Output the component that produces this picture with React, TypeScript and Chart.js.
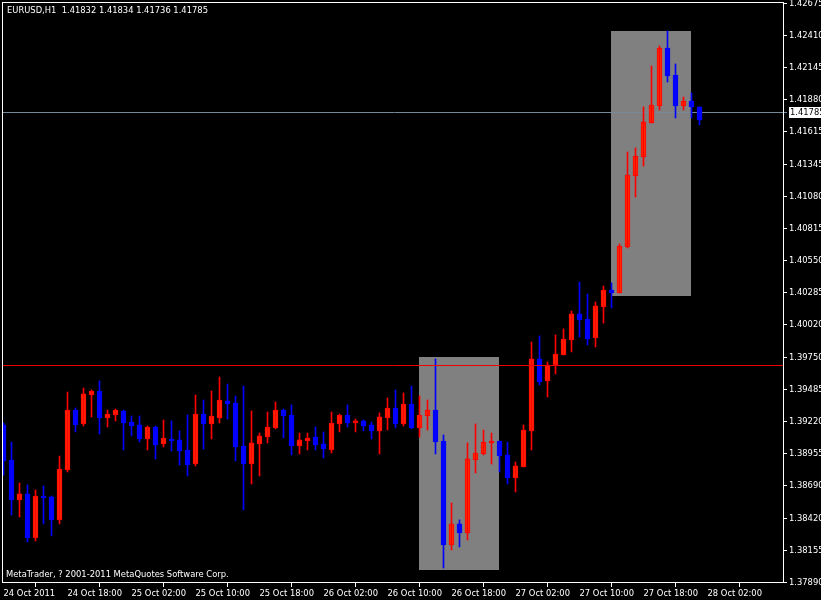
import React, { useEffect, useRef } from 'react';
import { Chart, registerables } from 'chart.js';

Chart.register(...registerables);

// ---- Data (EURUSD H1, bar 0 = 24 Oct 2011 10:00) ----
const opens = [
  1.39192, 1.38902, 1.38572, 1.38622, 1.38258, 1.38605, 1.38597, 1.38407, 1.38820, 1.39315,
  1.39200, 1.39439, 1.39472, 1.39249, 1.39274, 1.39307, 1.39216, 1.39192, 1.39076, 1.39175,
  1.39035, 1.39076, 1.39068, 1.38985, 1.38869, 1.39282, 1.39200, 1.39249, 1.39390, 1.39373,
  1.39018, 1.38869, 1.39035, 1.39092, 1.39167, 1.39315, 1.39274, 1.39018, 1.39059, 1.39092,
  1.39035, 1.38985, 1.39200, 1.39274, 1.39208, 1.39225, 1.39192, 1.39142, 1.39249, 1.39332,
  1.39200, 1.39365, 1.39167, 1.39266, 1.39315, 1.39059, 1.38200, 1.38374, 1.38299, 1.38902,
  1.38952, 1.39043, 1.39059, 1.38944, 1.38754, 1.38845, 1.39142, 1.39737, 1.39555, 1.39687,
  1.39770, 1.39894, 1.40109, 1.40067, 1.39910, 1.40166, 1.40307, 1.40282, 1.40662, 1.41249,
  1.41406, 1.41686, 1.41827, 1.42306, 1.42083, 1.41827, 1.41868, 1.41819,
];
const highs = [
  1.39208, 1.39051, 1.38712, 1.38696, 1.38655, 1.38688, 1.38605, 1.38935, 1.39464, 1.39332,
  1.39497, 1.39481, 1.39555, 1.39315, 1.39324, 1.39315, 1.39266, 1.39266, 1.39183, 1.39183,
  1.39233, 1.39225, 1.39142, 1.39274, 1.39439, 1.39398, 1.39472, 1.39588, 1.39530, 1.39431,
  1.39514, 1.39307, 1.39125, 1.39299, 1.39382, 1.39324, 1.39357, 1.39125, 1.39125, 1.39175,
  1.39134, 1.39299, 1.39282, 1.39357, 1.39241, 1.39233, 1.39216, 1.39291, 1.39415, 1.39481,
  1.39456, 1.39514, 1.39431, 1.39398, 1.39737, 1.39109, 1.38547, 1.38407, 1.39043, 1.39200,
  1.39150, 1.39125, 1.39059, 1.39051, 1.38886, 1.39192, 1.39877, 1.39927, 1.39712, 1.39935,
  1.39985, 1.40133, 1.40373, 1.40274, 1.40208, 1.40340, 1.40365, 1.40687, 1.41447, 1.41480,
  1.41819, 1.42157, 1.42323, 1.42446, 1.42174, 1.41901, 1.41934, 1.41819,
];
const lows = [
  1.38778, 1.38448, 1.38432, 1.38225, 1.38233, 1.38374, 1.38275, 1.38374, 1.38803, 1.39134,
  1.39183, 1.39258, 1.39117, 1.39175, 1.39225, 1.38985, 1.39101, 1.39051, 1.38985, 1.38911,
  1.39010, 1.38977, 1.38861, 1.38770, 1.38853, 1.38993, 1.39076, 1.39208, 1.39241, 1.38894,
  1.38489, 1.38704, 1.38770, 1.39043, 1.39159, 1.39084, 1.38944, 1.38952, 1.38985, 1.38985,
  1.38919, 1.38960, 1.39134, 1.39175, 1.39134, 1.39142, 1.39076, 1.38952, 1.39150, 1.39167,
  1.39183, 1.39159, 1.39092, 1.39150, 1.38952, 1.38010, 1.38159, 1.38184, 1.38242, 1.38795,
  1.38944, 1.38869, 1.38803, 1.38704, 1.38638, 1.38845, 1.38985, 1.39522, 1.39423, 1.39613,
  1.39770, 1.39795, 1.39919, 1.39853, 1.39836, 1.40034, 1.40158, 1.40282, 1.40654, 1.41075,
  1.41331, 1.41686, 1.41794, 1.42025, 1.41728, 1.41794, 1.41728, 1.41670,
];
const closes = [
  1.38894, 1.38572, 1.38622, 1.38258, 1.38605, 1.38589, 1.38407, 1.38828, 1.39315, 1.39192,
  1.39448, 1.39472, 1.39249, 1.39282, 1.39315, 1.39208, 1.39183, 1.39076, 1.39175, 1.39026,
  1.39084, 1.39059, 1.38977, 1.38861, 1.39282, 1.39200, 1.39266, 1.39398, 1.39365, 1.39010,
  1.38869, 1.39043, 1.39101, 1.39175, 1.39315, 1.39266, 1.39018, 1.39068, 1.39084, 1.39026,
  1.38993, 1.39208, 1.39274, 1.39208, 1.39225, 1.39183, 1.39142, 1.39258, 1.39332, 1.39200,
  1.39365, 1.39167, 1.39274, 1.39315, 1.39051, 1.38200, 1.38374, 1.38299, 1.38911, 1.38960,
  1.39051, 1.39059, 1.38935, 1.38754, 1.38853, 1.39150, 1.39737, 1.39547, 1.39687, 1.39778,
  1.39902, 1.40109, 1.40059, 1.39902, 1.40175, 1.40307, 1.40282, 1.40670, 1.41257, 1.41414,
  1.41695, 1.41835, 1.42306, 1.42075, 1.41827, 1.41868, 1.41819, 1.41711,
];

const xTickIndex = [0, 8, 16, 24, 32, 40, 48, 56, 64, 72, 80, 88];
const xTickLabels = [
  '24 Oct 2011', '24 Oct 18:00', '25 Oct 02:00', '25 Oct 10:00', '25 Oct 18:00', '26 Oct 02:00',
  '26 Oct 10:00', '26 Oct 18:00', '27 Oct 02:00', '27 Oct 10:00', '27 Oct 18:00', '28 Oct 02:00',
];
const yTickLabels = [
  '1.37890', '1.38155', '1.38420', '1.38690', '1.38955', '1.39220', '1.39485', '1.39750',
  '1.40020', '1.40285', '1.40550', '1.40815', '1.41080', '1.41345', '1.41615', '1.41880',
  '1.42145', '1.42410', '1.42675',
];

// rectangles (bar index from/to, price high/low)
const zoneStart = [52, 76];
const zoneEnd = [62, 86];
const zoneHigh = [1.39753, 1.42446];
const zoneLow = [1.37994, 1.40257];

const levelPrice = 1.39685;
const bidPrice = 1.41785;
const bidLabel = '1.41785';
const titleText = 'EURUSD,H1  1.41832 1.41834 1.41736 1.41785';
const copyrightText = 'MetaTrader, ? 2001-2011 MetaQuotes Software Corp.';

const Y_MIN = 1.37886;
const Y_MAX = 1.42686;
const X_MIN = -0.1875;
const X_MAX = 97.4375;

const FONT_FAMILY = "'DejaVu Sans Condensed', 'Liberation Sans', sans-serif";
const FONT_SIZE = 9.3;
const BULL_FILL = '#FF3300';
const BULL_LINE = '#FF0000';
const BEAR_FILL = '#0000FF';
const BEAR_LINE = '#0000FF';

const mtPlugin = {
  id: 'mtDecor',
  beforeDatasetsDraw(chart: any) {
    const { ctx, chartArea, scales } = chart;
    const x = scales.x;
    const y = scales.y;
    ctx.save();
    ctx.fillStyle = '#808080';
    zoneStart.forEach((s, i) => {
      const x0 = Math.floor(x.getPixelForValue(s));
      const x1 = Math.floor(x.getPixelForValue(zoneEnd[i]));
      const y0 = Math.round(y.getPixelForValue(zoneHigh[i]));
      const y1 = Math.round(y.getPixelForValue(zoneLow[i]));
      ctx.fillRect(x0, y0, x1 - x0, y1 - y0);
    });
    // bid line (behind candles)
    const by = Math.ceil(y.getPixelForValue(bidPrice)) + 0.5;
    ctx.strokeStyle = '#778899';
    ctx.lineWidth = 1;
    ctx.beginPath();
    ctx.moveTo(chartArea.left, by);
    ctx.lineTo(chartArea.right + 4, by);
    ctx.stroke();
    ctx.restore();
  },
  afterDatasetsDraw(chart: any) {
    const { ctx, chartArea, scales } = chart;
    const y = scales.y;
    ctx.save();
    ctx.lineWidth = 1;
    // red level line (in front of candles)
    const ly = Math.round(y.getPixelForValue(levelPrice)) + 0.5;
    ctx.strokeStyle = '#F00000';
    ctx.beginPath();
    ctx.moveTo(chartArea.left, ly);
    ctx.lineTo(chartArea.right, ly);
    ctx.stroke();
    ctx.restore();
  },
  afterDraw(chart: any) {
    const { ctx, chartArea, scales } = chart;
    const y = scales.y;
    ctx.save();
    // frame
    ctx.strokeStyle = '#FFFFFF';
    ctx.lineWidth = 1;
    ctx.strokeRect(
      chartArea.left + 0.5,
      chartArea.top + 0.5,
      chartArea.right - chartArea.left,
      chartArea.bottom - chartArea.top - 1
    );
    ctx.font = `${FONT_SIZE}px ${FONT_FAMILY}`;
    ctx.textBaseline = 'middle';
    ctx.textAlign = 'left';
    ctx.fillStyle = '#FFFFFF';
    ctx.fillText(titleText, 7, 11);
    ctx.fillText(copyrightText, 6, 575);
    // bid price label
    const by = Math.ceil(y.getPixelForValue(bidPrice));
    ctx.fillStyle = '#FFFFFF';
    ctx.fillRect(chartArea.right + 6, by - 5, 40, 11);
    ctx.fillStyle = '#000000';
    ctx.fillText(bidLabel, chartArea.right + 7, by + 0.5);
    ctx.restore();
  },
};

export default function App() {
  const ref = useRef<HTMLCanvasElement | null>(null);

  useEffect(() => {
    document.body.style.margin = '0';
    document.body.style.background = '#000';
    const canvas = ref.current;
    if (!canvas) return;

    const bull = closes.map((c, i) => c >= opens[i]);
    const wickData = lows.map((l, i) => ({ x: i, y: [l, highs[i]] }));
    const bodyData = opens.map((o, i) => ({ x: i, y: [o, closes[i]] }));

    const font = { family: FONT_FAMILY, size: FONT_SIZE };

    const chart = new Chart(canvas, {
      type: 'bar',
      data: {
        datasets: [
          {
            data: wickData as any,
            backgroundColor: bull.map((b) => (b ? BULL_LINE : BEAR_LINE)),
            borderWidth: 0,
            barThickness: 1,
            grouped: false,
          },
          {
            data: bodyData as any,
            backgroundColor: bull.map((b) => (b ? BULL_FILL : BEAR_FILL)),
            borderColor: bull.map((b) => (b ? BULL_LINE : BEAR_LINE)),
            borderWidth: 1,
            borderSkipped: false,
            barThickness: 5,
            grouped: false,
          },
        ],
      },
      options: {
        animation: false,
        responsive: false,
        maintainAspectRatio: false,
        devicePixelRatio: 1,
        layout: { padding: { left: 2, top: 2, right: 0, bottom: 0 } },
        plugins: { legend: { display: false }, tooltip: { enabled: false } },
        scales: {
          x: {
            type: 'linear',
            min: X_MIN,
            max: X_MAX,
            offset: false,
            afterBuildTicks: (s: any) => {
              s.ticks = xTickIndex.map((v) => ({ value: v }));
            },
            afterFit: (s: any) => {
              s.height = 17;
              s.paddingLeft = 0;
              s.paddingRight = 0;
            },
            ticks: {
              callback: (_v: any, i: number) => xTickLabels[i],
              align: 'start',
              maxRotation: 0,
              minRotation: 0,
              autoSkip: false,
              color: '#FFFFFF',
              font,
              padding: 1,
            },
            grid: { display: true, drawOnChartArea: false, drawTicks: true, tickLength: 4, color: '#FFFFFF' },
            border: { display: false },
          },
          y: {
            type: 'linear',
            position: 'right',
            min: Y_MIN,
            max: Y_MAX,
            afterBuildTicks: (s: any) => {
              s.ticks = yTickLabels.map((l) => ({ value: parseFloat(l) }));
            },
            afterFit: (s: any) => {
              s.width = 38;
              s.paddingTop = 0;
              s.paddingBottom = 0;
            },
            ticks: {
              callback: (_v: any, i: number) => yTickLabels[i],
              autoSkip: false,
              color: '#FFFFFF',
              font,
              padding: 2,
            },
            grid: { display: true, drawOnChartArea: false, drawTicks: true, tickLength: 4, color: '#FFFFFF' },
            border: { display: false },
          },
        },
      } as any,
      plugins: [mtPlugin],
    });

    return () => chart.destroy();
  }, []);

  return (
    <div style={{ width: 821, height: 600, background: '#000' }}>
      <canvas ref={ref} width={821} height={600} style={{ display: 'block', width: 821, height: 600 }} />
    </div>
  );
}
